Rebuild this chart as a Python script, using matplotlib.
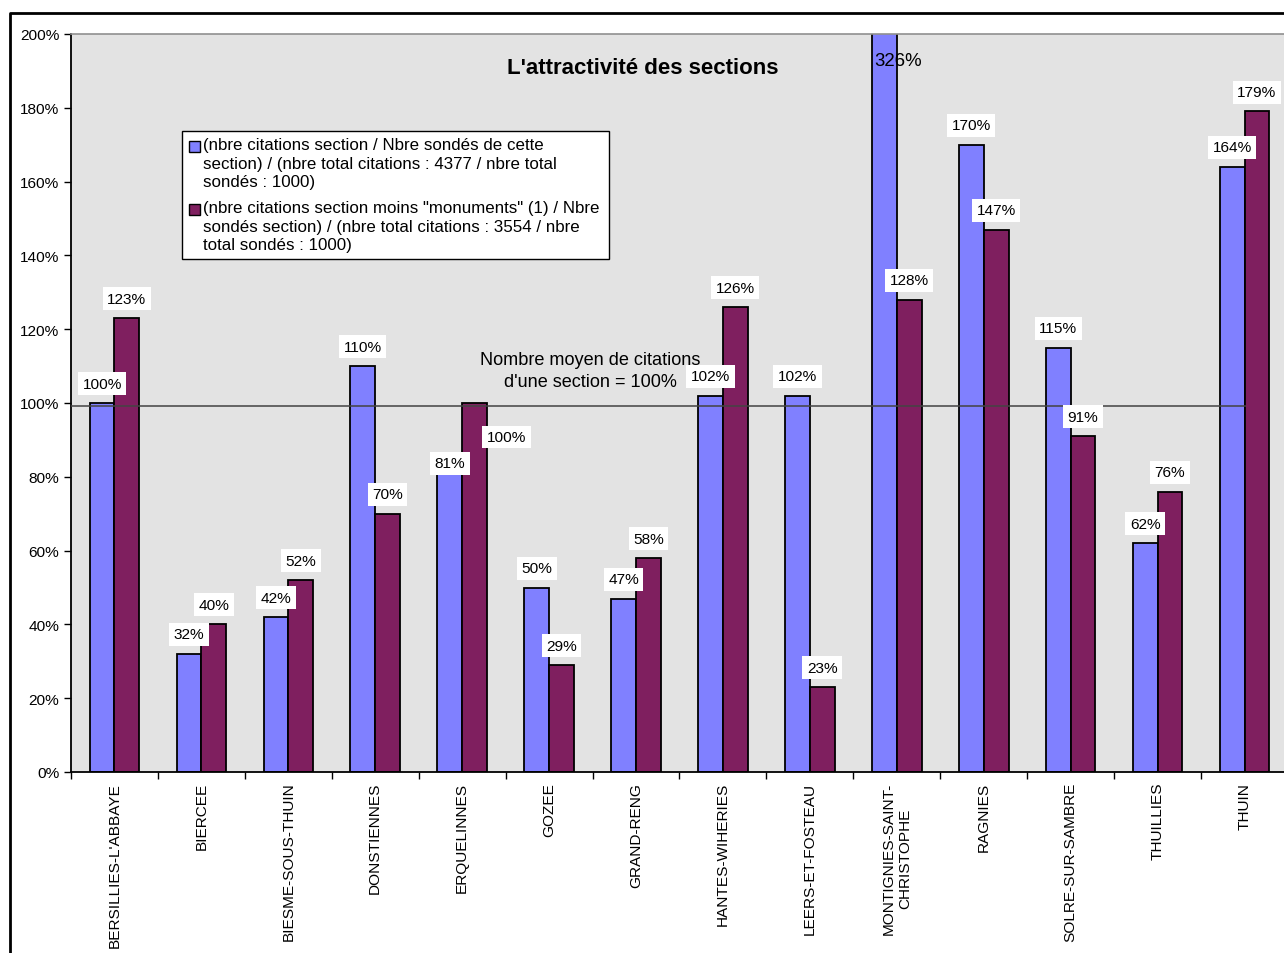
import matplotlib.pyplot as plt
from matplotlib.patches import Rectangle
from matplotlib.lines import Line2D
from matplotlib.ticker import FixedLocator

plt.rcParams['font.family'] = ['Liberation Sans', 'DejaVu Sans']

# data
sections = ["BERSILLIES-L'ABBAYE", "BIERCEE", "BIESME-SOUS-THUIN", "DONSTIENNES",
            "ERQUELINNES", "GOZEE", "GRAND-RENG", "HANTES-WIHERIES", "LEERS-ET-FOSTEAU",
            "MONTIGNIES-SAINT-\nCHRISTOPHE", "RAGNIES", "SOLRE-SUR-SAMBRE", "THUILLIES", "THUIN"]
all_cit = [100, 32, 42, 110, 81, 50, 47, 102, 102, 326, 170, 115, 62, 164]
no_monum = [123, 40, 52, 70, 100, 29, 58, 126, 23, 128, 147, 91, 76, 179]
mean_level = 99.2

legend_1 = ("(nbre citations section / Nbre sondés de cette\n"
            "section) / (nbre total citations : 4377 / nbre total\n"
            "sondés : 1000)")
legend_2 = ("(nbre citations section moins \"monuments\" (1) / Nbre\n"
            "sondés section) / (nbre total citations : 3554 / nbre\n"
            "total sondés : 1000)")

W, H = 1284, 954
fig = plt.figure(figsize=(W / 100, H / 100), dpi=100)

def px(x, y):
    return x / W, 1 - y / H

# axes goes a bit beyond the right edge, like the cropped original
ax = fig.add_axes([71 / W, (H - 773) / H, 1217 / W, 738 / H])
ax.set_facecolor('#E3E3E3')

blue = '#8080FF'
purple = '#7F1F5F'
w = 0.285
n = len(sections)
xs = list(range(n))

ax.bar([x - w / 2 for x in xs], all_cit, w, color=blue, edgecolor='black', linewidth=1.3, zorder=2)
ax.bar([x + w / 2 for x in xs], no_monum, w, color=purple, edgecolor='black', linewidth=1.3, zorder=2)

ax.set_xlim(-0.5, n - 0.5)
ax.set_ylim(0, 200)

# average line
ax.plot([-0.5, 13.0], [mean_level, mean_level], color='#444444', lw=1.4, alpha=0.8, zorder=3)

# "Nombre moyen" note
ax.text(0.4265, 0.5437, "Nombre moyen de citations\nd'une section = 100%", transform=ax.transAxes,
        fontsize=13.1, ha='center', va='center', linespacing=1.4, zorder=6)

# value labels
box = dict(facecolor='white', edgecolor='none', pad=3.2)
lab_fs = 11.1
for i in xs:
    v1 = all_cit[i]
    v2 = no_monum[i]
    if i == 9:
        ax.text(i - w + 0.03, 192.7, f'{v1}%', fontsize=13.4, ha='left', va='center', zorder=5)
    else:
        dy = 7.2 if i == 4 else 14
        ax.annotate(f'{v1}%', (i - w / 2, v1), xytext=(0, dy), textcoords='offset points',
                    ha='center', va='center', fontsize=lab_fs, bbox=box, zorder=5)
    if i == 4:
        off = (23, -24.5)
    else:
        off = (0, 14)
    ax.annotate(f'{v2}%', (i + w / 2, v2), xytext=off, textcoords='offset points',
                ha='center', va='center', fontsize=lab_fs, bbox=box, zorder=5)

# axes styling
ax.set_yticks(range(0, 201, 20))
ax.set_yticklabels([f'{v}%' for v in range(0, 201, 20)], fontsize=11.1)
ax.tick_params(axis='y', direction='out', length=5, width=1, color='black')
ax.set_xticks(xs)
ax.set_xticklabels(sections, rotation=90, fontsize=11.1, ha='center', va='top',
                   multialignment='center')
ax.tick_params(axis='x', which='major', length=0, pad=7)
ax.xaxis.set_minor_locator(FixedLocator([x + 0.5 for x in range(-1, n)]))
ax.tick_params(axis='x', which='minor', direction='out', length=5, width=1, color='black')
ax.spines['left'].set_color('black')
ax.spines['left'].set_linewidth(1.3)
ax.spines['bottom'].set_color('black')
ax.spines['bottom'].set_linewidth(1.3)
ax.spines['top'].set_color('#909090')
ax.spines['top'].set_linewidth(1.2)
ax.spines['right'].set_color('#909090')

# title
fig.text(*px(643, 69), "L'attractivité des sections", fontsize=16, fontweight='bold',
         ha='center', va='center')

# legend drawn by hand
lx0, ly0, lx1, ly1 = 182, 132, 609, 260
fig.patches.append(Rectangle(px(lx0, ly1), (lx1 - lx0) / W, (ly1 - ly0) / H,
                             transform=fig.transFigure, facecolor='white', edgecolor='black',
                             linewidth=1.0, zorder=6))
for (ytop, col, lab) in [(138, blue, legend_1), (201, purple, legend_2)]:
    fig.patches.append(Rectangle(px(189, ytop + 15), 11 / W, 11 / H, transform=fig.transFigure,
                                 facecolor=col, edgecolor='black', linewidth=1.0, zorder=7))
    fig.text(*px(203, ytop), lab, fontsize=12.2, ha='left', va='top', linespacing=1.3, zorder=7)

# outer chart border (cropped on right and bottom)
fig.add_artist(Line2D([10 / W, 10 / W, 1.0], [0.0, 1 - 14 / H, 1 - 14 / H],
                      transform=fig.transFigure, color='black', lw=2))

fig.savefig('out.png', dpi=100)
